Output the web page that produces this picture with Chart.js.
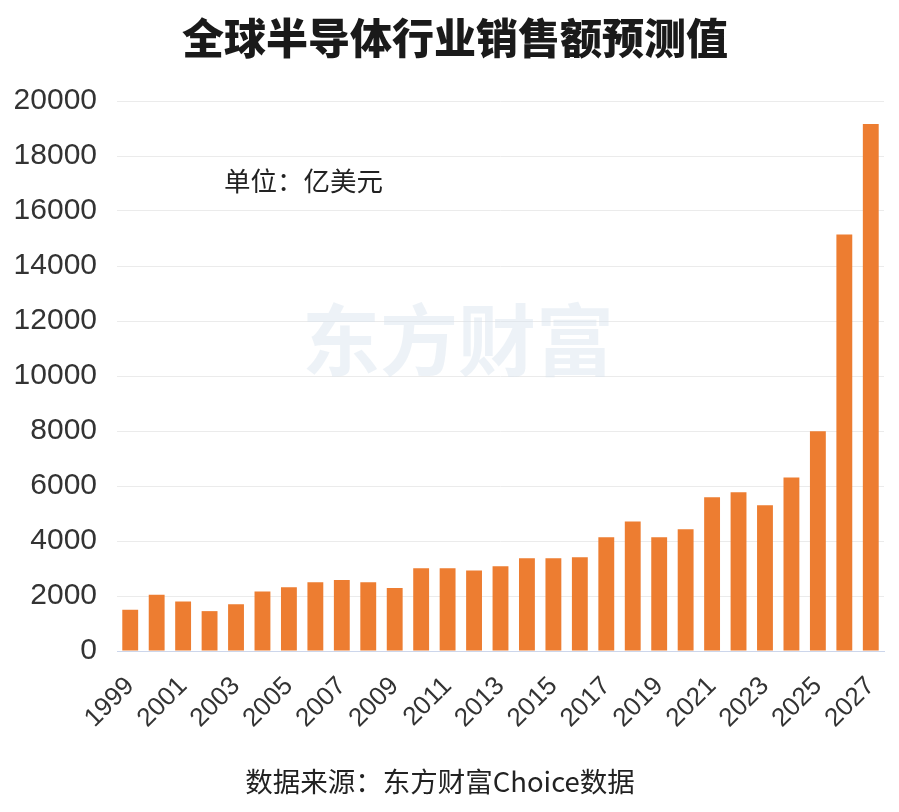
<!DOCTYPE html>
<html>
<head>
<meta charset="utf-8">
<script src="https://cdn.jsdelivr.net/npm/chart.js@4.4.1/dist/chart.umd.min.js"></script>
<style>
  html, body { margin: 0; padding: 0; background: #fff; }
  #wrap { width: 899px; height: 812px; }
</style>
</head>
<body>
<div id="wrap"><canvas id="myChart"></canvas></div>
<script>
const years = [
  '1999', '2000', '2001', '2002', '2003', '2004', '2005', '2006', '2007', '2008',
  '2009', '2010', '2011', '2012', '2013', '2014', '2015', '2016', '2017', '2018',
  '2019', '2020', '2021', '2022', '2023', '2024', '2025', '2026', '2027'
];
const sales = [
  1500, 2050, 1800, 1450, 1700, 2160, 2320, 2500, 2580, 2500,
  2290, 3010, 3010, 2930, 3080, 3370, 3370, 3410, 4140, 4710,
  4140, 4430, 5590, 5770, 5300, 6310, 7990, 15150, 19160
];
const yTicks = [0, 2000, 4000, 6000, 8000, 10000, 12000, 14000, 16000, 18000, 20000];

const titleText = '全球半导体行业销售额预测值';
const unitText = '单位：亿美元';
const sourceText = '数据来源：东方财富Choice数据';
const watermarkText = '东方财富';

const cjk = '"Noto Sans CJK SC", "Liberation Sans", sans-serif';
const latin = '"Liberation Sans", Arial, sans-serif';

// title, watermark, unit note and source drawn at fixed spots
const extras = {
  id: 'extras',
  beforeDatasetsDraw(chart) {
    const c = chart.ctx;
    c.save();
    c.font = 'bold 78px ' + cjk;
    c.fillStyle = 'rgba(214, 226, 238, 0.45)';
    c.textAlign = 'center';
    c.textBaseline = 'middle';
    c.fillText(watermarkText, 458, 340);
    c.restore();
  },
  afterDraw(chart) {
    const c = chart.ctx;
    c.save();
    c.textBaseline = 'middle';
    c.textAlign = 'center';
    c.fillStyle = '#1a1a1a';
    c.font = '900 42px ' + cjk;
    c.fillText(titleText, 455, 38);
    c.fillStyle = '#222';
    c.textAlign = 'left';
    c.font = '26.5px ' + cjk;
    c.fillText(unitText, 224, 181);
    c.textAlign = 'center';
    c.font = '27.5px ' + cjk;
    c.fillText(sourceText, 440, 782);
    c.restore();
  }
};

const ctx = document.getElementById('myChart');

new Chart(ctx, {
  type: 'bar',
  data: {
    labels: years,
    datasets: [{
      label: '销售额',
      data: sales,
      backgroundColor: '#ed7d31',
      borderWidth: 0,
      categoryPercentage: 1,
      barPercentage: 0.6
    }]
  },
  options: {
    responsive: true,
    maintainAspectRatio: false,
    animation: false,
    layout: {
      padding: { left: 0, right: 15, top: 101, bottom: 61 }
    },
    plugins: {
      legend: { display: false },
      tooltip: { enabled: false },
      title: { display: false }
    },
    scales: {
      x: {
        grid: { display: false, drawTicks: false },
        border: { display: true, color: '#ccd6eb', width: 1 },
        afterFit(scale) {
          scale.height = 100;
          scale.paddingLeft = 0;
          scale.paddingRight = 0;
        },
        ticks: {
          autoSkip: false,
          maxRotation: 45,
          minRotation: 45,
          padding: 20,
          color: '#333',
          font: { family: latin, size: 26 },
          callback: function(value, index) {
            return index % 2 === 0 ? years[index] : '';
          }
        }
      },
      y: {
        min: 0,
        max: 20000,
        afterFit(scale) {
          scale.width = 117;
          scale.paddingTop = 0;
          scale.paddingBottom = 0;
        },
        afterBuildTicks(scale) {
          scale.ticks = yTicks.map(v => ({ value: v }));
        },
        grid: { color: '#ebebeb', lineWidth: 1, drawTicks: false },
        border: { display: false },
        ticks: {
          padding: 20,
          color: '#333',
          font: { family: latin, size: 30 },
          callback: function(value) {
            return String(value);
          }
        }
      }
    }
  },
  plugins: [extras]
});
</script>
</body>
</html>
